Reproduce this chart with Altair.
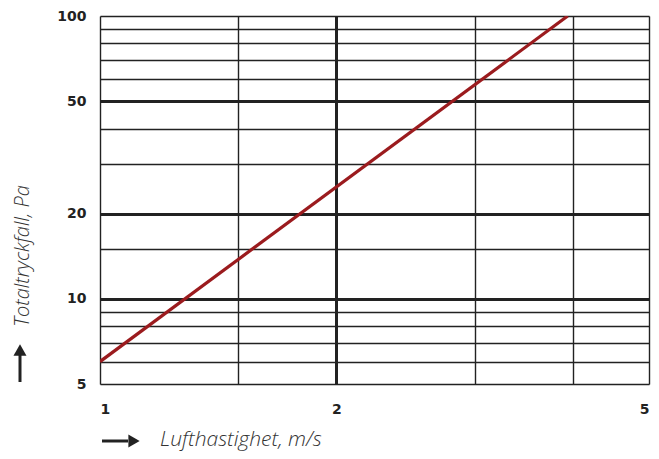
import altair as alt
import pandas as pd

# Data (log-log chart)
velocity = [1.0, 3.94]          # m/s
pressure = [6.0, 100.0]         # Pa

x_grid = [1, 1.5, 2, 3, 4, 5]
x_labels = [1, 2, 5]
y_grid = [5, 6, 7, 8, 9, 10, 15, 20, 30, 40, 50, 60, 70, 80, 90, 100]
y_labels = [5, 10, 20, 50, 100]

df = pd.DataFrame({"v": velocity, "p": pressure})

W, H = 549, 368
DARK = "#222222"
label_font = "DejaVu Sans"
title_font = "Open Sans"

x_lab = "indexof([" + ",".join(str(v) for v in x_labels) + "], datum.value) >= 0 ? format(datum.value, 'd') : ''"
y_lab = "indexof([" + ",".join(str(v) for v in y_labels) + "], datum.value) >= 0 ? format(datum.value, 'd') : ''"

x_axis = alt.Axis(
    values=x_grid, labelExpr=x_lab, title=None, ticks=False, domain=False,
    grid=True, gridColor=DARK,
    gridWidth={"condition": {"test": "datum.value == 2", "value": 3}, "value": 1.4},
    labelFont=label_font, labelFontWeight="bold", labelFontSize=14, labelColor=DARK,
    labelPadding=18, labelFlush=True,
)
y_axis = alt.Axis(
    values=y_grid, labelExpr=y_lab, title=None, ticks=False, domain=False,
    grid=True, gridColor=DARK,
    gridWidth={"condition": {"test": "indexof([10,20,50], datum.value) >= 0", "value": 3}, "value": 1.4},
    labelFont=label_font, labelFontWeight="bold", labelFontSize=14, labelColor=DARK,
    labelPadding=14,
)

line = alt.Chart(df).mark_line(color="#9b1b1e", strokeWidth=3.2, clip=True).encode(
    x=alt.X("v:Q", scale=alt.Scale(type="log", domain=[1, 5], nice=False), axis=x_axis),
    y=alt.Y("p:Q", scale=alt.Scale(type="log", domain=[5, 100], nice=False), axis=y_axis),
)

blank = alt.Data(values=[{}])

# x-axis title with arrow
x_arrow_line = alt.Chart(blank).mark_rule(color=DARK, strokeWidth=3).encode(
    x=alt.value(2), x2=alt.value(28), y=alt.value(425)
)
x_arrow_head = alt.Chart(blank).mark_point(shape="triangle-right", filled=True, color=DARK, opacity=1, size=170).encode(
    x=alt.value(34), y=alt.value(425)
)
x_title = alt.Chart(blank).mark_text(
    text="Lufthastighet, m/s", font=title_font, fontStyle="italic", fontWeight=300, fontSize=21,
    color="#333333", align="left", baseline="middle",
).encode(x=alt.value(60), y=alt.value(424))

# y-axis title with arrow
y_arrow_line = alt.Chart(blank).mark_rule(color=DARK, strokeWidth=3).encode(
    x=alt.value(-80), y=alt.value(339), y2=alt.value(366)
)
y_arrow_head = alt.Chart(blank).mark_point(shape="triangle-up", filled=True, color=DARK, opacity=1, size=170).encode(
    x=alt.value(-80), y=alt.value(334)
)
y_title = alt.Chart(blank).mark_text(
    text="Totaltryckfall, Pa", font=title_font, fontStyle="italic", fontWeight=300, fontSize=20,
    color="#333333", align="center", baseline="middle", angle=270,
).encode(x=alt.value(-77), y=alt.value(240))

chart = alt.layer(
    line, x_arrow_line, x_arrow_head, x_title, y_arrow_line, y_arrow_head, y_title
).properties(
    width=W, height=H,
    autosize=alt.AutoSizeParams(type="none"),
    padding={"left": 92, "top": 8, "right": 2, "bottom": 67},
).configure_view(
    stroke=DARK, strokeWidth=3.2
).configure(background="white")

chart.save("out.html", embed_options={"renderer": "svg", "actions": False})
